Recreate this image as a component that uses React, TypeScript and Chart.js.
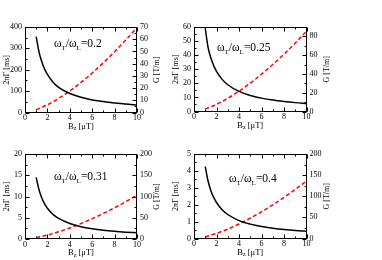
import React, { useEffect, useRef } from "react";
import { Chart, registerables } from "chart.js";
Chart.register(...registerables);

// ---------- data ----------
const bz = [1, 1.25, 1.5, 1.75, 2, 2.5, 3, 4, 5, 6, 7, 8, 9, 10];
const xTicks = [0, 2, 4, 6, 8, 10];

const tau1 = [355, 284, 237, 203, 178, 142, 118, 89, 71, 59, 51, 44, 39.5, 35.5];
const grad1 = [2.3, 3.2, 4.1, 5.3, 6.3, 8.8, 11.5, 17.6, 24.6, 32.3, 40.7, 49.8, 59.4, 69.4];
const left1 = [0, 100, 200, 300, 400];
const right1 = [0, 10, 20, 30, 40, 50, 60, 70];
const ratio1 = "0.2";

const tau2 = [59, 45.6, 38, 32.6, 28.5, 22.8, 19, 14.3, 11.4, 9.5, 8.1, 7.1, 6.3, 5.7];
const grad2 = [2.7, 3.8, 5.0, 6.3, 7.6, 10.7, 14.0, 21.6, 30.2, 39.7, 50, 61, 72.9, 85.4];
const left2 = [0, 10, 20, 30, 40, 50, 60];
const right2 = [0, 20, 40, 60, 80];
const ratio2 = "0.25";

const tau3 = [14.5, 11.6, 9.67, 8.29, 7.25, 5.8, 4.83, 3.63, 2.9, 2.42, 2.07, 1.81, 1.61, 1.45];
const grad3 = [3.25, 4.54, 5.97, 7.52, 9.19, 12.85, 16.9, 26, 36.3, 47.8, 60.2, 73.5, 87.8, 102.8];
const left3 = [0, 5, 10, 15, 20];
const right3 = [0, 50, 100, 150, 200];
const ratio3 = "0.31";

const tau4 = [4.25, 3.4, 2.83, 2.43, 2.13, 1.7, 1.42, 1.06, 0.85, 0.71, 0.61, 0.53, 0.47, 0.43];
const grad4 = [4.3, 6.0, 7.9, 9.95, 12.2, 17, 22.3, 34.4, 48.1, 63.2, 79.6, 97.3, 116.1, 136];
const left4 = [0, 1, 2, 3, 4, 5];
const right4 = [0, 50, 100, 150, 200];
const ratio4 = "0.4";

// ---------- layout ----------
type Panel = {
  tau: number[]; grad: number[]; left: number[]; right: number[]; ratio: string;
  rightMax: number;
  cx: number; cy: number; cw: number; ch: number;
  L: number; R: number; T: number; B: number;
  yMinor: number; y2Minor: number;
  ax: number; ay: number;
};

const panels: Panel[] = [
  { tau: tau1, grad: grad1, left: left1, right: right1, ratio: ratio1, rightMax: 70,
    cx: 0, cy: 0, cw: 166, ch: 130, L: 25, R: 137, T: 27, B: 112.5, yMinor: 50, y2Minor: 5, ax: 29, ay: 20 },
  { tau: tau2, grad: grad2, left: left2, right: right2, ratio: ratio2, rightMax: 90,
    cx: 166, cy: 0, cw: 216, ch: 130, L: 28, R: 140.5, T: 27, B: 111.5, yMinor: 5, y2Minor: 10, ax: 23, ay: 24 },
  { tau: tau3, grad: grad3, left: left3, right: right3, ratio: ratio3, rightMax: 200,
    cx: 0, cy: 130, cw: 166, ch: 130, L: 25, R: 137, T: 24, B: 109, yMinor: 2.5, y2Minor: 25, ax: 29, ay: 26 },
  { tau: tau4, grad: grad4, left: left4, right: right4, ratio: ratio4, rightMax: 200,
    cx: 166, cy: 130, cw: 216, ch: 130, L: 28, R: 140.5, T: 24, B: 108.5, yMinor: 0.5, y2Minor: 25, ax: 35, ay: 28 },
];

const FONT = "'Liberation Serif', 'DejaVu Serif', serif";

type Part = { t: string; sub?: boolean };
function drawRich(ctx: CanvasRenderingContext2D, parts: Part[], x: number, y: number, size: number, subSize: number, subDrop: number, align: "left" | "center") {
  const widths = parts.map((p) => {
    ctx.font = `${p.sub ? subSize : size}px ${FONT}`;
    return ctx.measureText(p.t).width;
  });
  const total = widths.reduce((a, b) => a + b, 0);
  let cx = align === "center" ? x - total / 2 : x;
  ctx.textAlign = "left";
  ctx.textBaseline = "alphabetic";
  parts.forEach((p, i) => {
    ctx.font = `${p.sub ? subSize : size}px ${FONT}`;
    ctx.fillText(p.t, cx, y + (p.sub ? subDrop : 0));
    cx += widths[i];
  });
}

const decor = {
  id: "decor",
  afterDraw(chart: any, _args: any, opts: any) {
    const ctx: CanvasRenderingContext2D = chart.ctx;
    const a = chart.chartArea;
    const sx = chart.scales.x, sy = chart.scales.y, sy2 = chart.scales.y2;
    ctx.save();
    ctx.strokeStyle = "#000";
    ctx.fillStyle = "#000";
    ctx.lineWidth = 1;
    const l = Math.round(a.left) + 0.5, r = Math.round(a.right) - 0.5;
    const t = Math.round(a.top) + 0.5, b = Math.round(a.bottom) - 0.5;
    ctx.strokeRect(l, t, r - l, b - t);
    const near = (v: number, s: number) => Math.abs(v / s - Math.round(v / s)) < 1e-6;
    ctx.beginPath();
    for (let v = 0; v <= 10 + 1e-9; v += 1) {
      const p = Math.round(sx.getPixelForValue(v)) + 0.5;
      const len = near(v, 2) ? 4 : 2;
      ctx.moveTo(p, b); ctx.lineTo(p, b - len);
      ctx.moveTo(p, t); ctx.lineTo(p, t + len);
    }
    const ys = opts.yMajor, ym = opts.yMinor, yMax = sy.max;
    for (let v = 0; v <= yMax + 1e-9; v += ym) {
      const p = Math.round(sy.getPixelForValue(v)) + 0.5;
      const len = near(v, ys) ? 4 : 2;
      ctx.moveTo(l, p); ctx.lineTo(l + len, p);
    }
    const y2s = opts.y2Major, y2m = opts.y2Minor, y2Max = sy2.max;
    for (let v = 0; v <= y2Max + 1e-9; v += y2m) {
      const p = Math.round(sy2.getPixelForValue(v)) + 0.5;
      const len = near(v, y2s) ? 4 : 2;
      ctx.moveTo(r, p); ctx.lineTo(r - len, p);
    }
    ctx.stroke();

    const cyMid = (a.top + a.bottom) / 2;
    ctx.save();
    ctx.translate(a.left - 19, cyMid);
    ctx.rotate(-Math.PI / 2);
    drawRich(ctx, [{ t: "2πΓ [ms]" }], 0, 3, 8, 6, 0, "center");
    ctx.restore();
    ctx.save();
    ctx.translate(a.right + 19, cyMid);
    ctx.rotate(-Math.PI / 2);
    drawRich(ctx, [{ t: "G [T/m]" }], 0, 3, 8, 6, 0, "center");
    ctx.restore();
    drawRich(ctx, [{ t: "B" }, { t: "z", sub: true }, { t: " [μT]" }], (a.left + a.right) / 2, a.bottom + 16, 8.5, 6, 1.5, "center");

    drawRich(
      ctx,
      [{ t: "ω" }, { t: "T", sub: true }, { t: "/ω" }, { t: "L", sub: true }, { t: "=" + opts.ratio }],
      a.left + opts.ax, a.top + opts.ay, 11.5, 7, 3, "left"
    );
    ctx.restore();
  },
};

function PanelChart({ p }: { p: Panel }) {
  const ref = useRef<HTMLCanvasElement | null>(null);
  useEffect(() => {
    if (!ref.current) return;
    const tickFont = { family: FONT, size: 8 };
    const yMajor = p.left[1] - p.left[0];
    const y2Major = p.right[1] - p.right[0];
    const chart = new Chart(ref.current, {
      type: "line",
      data: {
        labels: bz,
        datasets: [
          {
            data: bz.map((x, i) => ({ x, y: p.tau[i] })),
            yAxisID: "y",
            borderColor: "#000",
            borderWidth: 1.5,
            pointRadius: 0,
            cubicInterpolationMode: "monotone",
            fill: false,
          },
          {
            data: bz.map((x, i) => ({ x, y: p.grad[i] })),
            yAxisID: "y2",
            borderColor: "#ff0000",
            borderWidth: 1.5,
            borderDash: [4, 2.5],
            pointRadius: 0,
            cubicInterpolationMode: "monotone",
            fill: false,
          },
        ],
      },
      options: {
        animation: false,
        responsive: false,
        devicePixelRatio: 1,
        layout: { padding: { top: p.T, left: 0, right: 0, bottom: 0 } },
        plugins: {
          legend: { display: false },
          tooltip: { enabled: false },
          decor: { yMajor, yMinor: p.yMinor, y2Major, y2Minor: p.y2Minor, ratio: p.ratio, ax: p.ax, ay: p.ay },
        } as any,
        scales: {
          x: {
            type: "linear",
            min: 0,
            max: 10,
            grid: { display: false, drawTicks: false },
            border: { display: false },
            ticks: { font: tickFont, color: "#000", padding: 1, maxRotation: 0, autoSkip: false },
            afterBuildTicks: (s: any) => { s.ticks = xTicks.map((v) => ({ value: v })); },
            afterFit: (s: any) => { s.height = p.ch - p.B; },
          },
          y: {
            type: "linear",
            position: "left",
            min: 0,
            max: p.left[p.left.length - 1],
            grid: { display: false, drawTicks: false },
            border: { display: false },
            ticks: { font: tickFont, color: "#000", padding: 3, autoSkip: false },
            afterBuildTicks: (s: any) => { s.ticks = p.left.map((v) => ({ value: v })); },
            afterFit: (s: any) => { s.width = p.L; },
          },
          y2: {
            type: "linear",
            position: "right",
            min: 0,
            max: p.rightMax,
            grid: { display: false, drawTicks: false },
            border: { display: false },
            ticks: { font: tickFont, color: "#000", padding: 3, autoSkip: false },
            afterBuildTicks: (s: any) => { s.ticks = p.right.map((v) => ({ value: v })); },
            afterFit: (s: any) => { s.width = p.cw - p.R; },
          },
        },
      },
      plugins: [decor],
    } as any);
    return () => chart.destroy();
  }, [p]);
  return (
    <canvas
      ref={ref}
      width={p.cw}
      height={p.ch}
      style={{ position: "absolute", left: p.cx, top: p.cy, width: p.cw, height: p.ch }}
    />
  );
}

export default function App() {
  return (
    <div style={{ position: "fixed", left: 0, top: 0, width: 382, height: 260, background: "#fff" }}>
      {panels.map((p, i) => (
        <PanelChart key={i} p={p} />
      ))}
    </div>
  );
}
